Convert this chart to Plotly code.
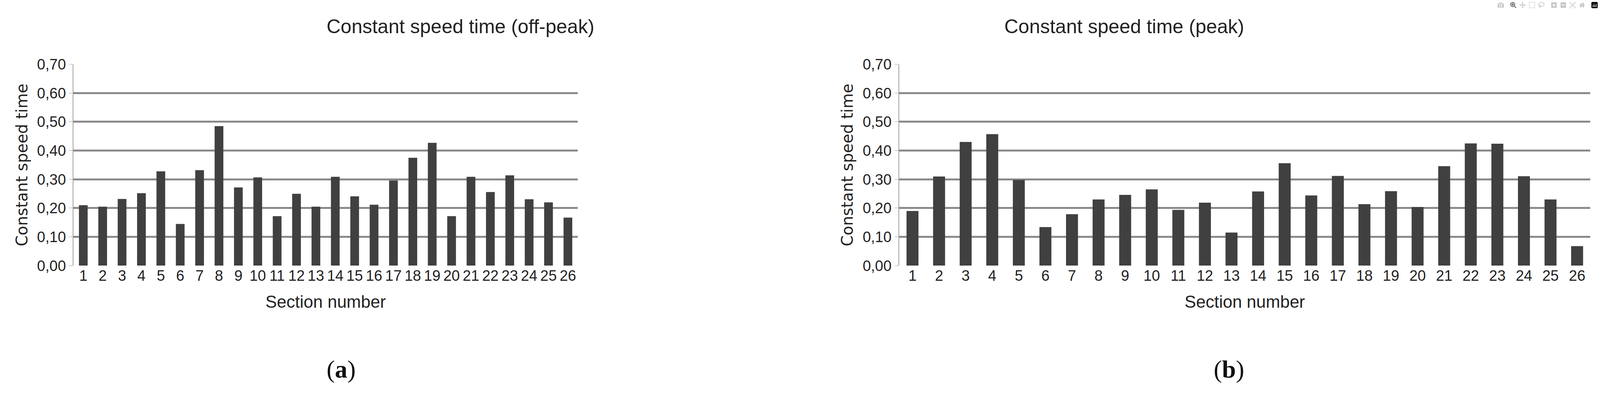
import plotly.graph_objects as go

sections = [str(i) for i in range(1, 27)]
offpeak = [0.21,0.205,0.232,0.252,0.328,0.145,0.332,0.485,0.272,0.307,0.172,0.25,0.205,0.309,0.241,0.212,0.296,0.375,0.427,0.172,0.309,0.256,0.314,0.231,0.22,0.167]
peak = [0.19,0.31,0.43,0.457,0.298,0.134,0.179,0.23,0.246,0.265,0.194,0.219,0.115,0.258,0.356,0.244,0.312,0.214,0.259,0.204,0.346,0.425,0.424,0.311,0.23,0.068]
titles = ["Constant speed time (off-peak)", "Constant speed time (peak)"]
labels = ["a", "b"]
yticks = [0, 0.1, 0.2, 0.3, 0.4, 0.5, 0.6, 0.7]
yticktext = ["0,00","0,10","0,20","0,30","0,40","0,50","0,60","0,70"]

NARROW = "Liberation Sans Narrow, Liberation Sans, sans-serif"
fig = go.Figure()
doms = [(0.046, 0.361), (0.562, 0.994)]
for i, (vals, dom) in enumerate(zip([offpeak, peak], doms)):
    xa = "x" if i == 0 else "x2"
    ya = "y" if i == 0 else "y2"
    fig.add_trace(go.Bar(x=sections, y=vals, xaxis=xa, yaxis=ya,
                         marker=dict(color="#404040", line=dict(width=0)), width=0.45))
    ax = dict(domain=dom, anchor=ya, tickfont=dict(family=NARROW, size=38, color="#222"),
              showgrid=False, showline=False, ticks="",
              title=dict(text="Section number", font=dict(family=NARROW, size=44, color="#222"), standoff=30))
    ay = dict(domain=[0.334, 0.855], anchor=xa, range=[0, 0.7], tickvals=yticks, ticktext=yticktext,
              tickfont=dict(family=NARROW, size=38, color="#222"),
              gridcolor="#8a8a8a", gridwidth=5, showline=True, linecolor="#a0a0a0", linewidth=2,
              ticks="outside", ticklen=10, tickcolor="#a0a0a0", zeroline=False,
              title=dict(text="Constant speed time", font=dict(family="DejaVu Sans", size=40, color="#222"), standoff=12))
    sfx = "" if i == 0 else "2"
    fig.layout["xaxis" + sfx] = ax
    fig.layout["yaxis" + sfx] = ay
    cx = (dom[0] + dom[1]) / 2
    fig.add_annotation(x=cx, y=0.953, xref="paper", yref="paper", text=titles[i], showarrow=False,
                       font=dict(family=NARROW, size=50, color="#222"), yanchor="middle")
    fig.add_annotation(x=cx, y=0.066, xref="paper", yref="paper", text="(<b>%s</b>)" % labels[i], showarrow=False,
                       font=dict(family="Liberation Serif, serif", size=64, color="#111"), yanchor="middle")

fig.update_layout(autosize=True, margin=dict(l=0, r=0, t=0, b=0),
                  plot_bgcolor="white", paper_bgcolor="white", showlegend=False, bargap=0.55)
fig.write_html("out.html", default_width="100vw", default_height="100vh",
               config={"responsive": True})
with open("out.html") as f:
    html = f.read()
html = html.replace("<head>", "<head><style>html,body{margin:0;padding:0;overflow:hidden;}</style>", 1)
with open("out.html", "w") as f:
    f.write(html)
